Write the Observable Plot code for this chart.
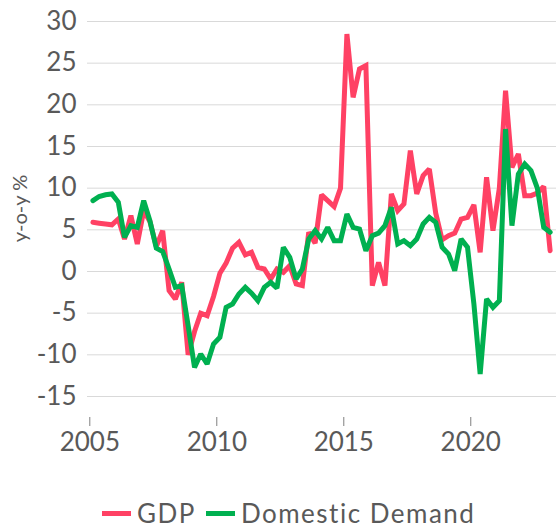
<!DOCTYPE html>
<html><head><meta charset="utf-8">
<script src="https://cdn.jsdelivr.net/npm/d3@7"></script>
<script src="https://cdn.jsdelivr.net/npm/@observablehq/plot@0.6"></script>
<style>
body{margin:0;background:#fff;font-family:Lato, sans-serif;}
#wrap{position:relative;width:556px;height:529px;overflow:hidden;background:#fff;}
#legend{position:absolute;left:102px;top:499px;display:flex;align-items:center;font-size:26px;line-height:28px;color:#595959;white-space:nowrap;letter-spacing:1.5px;}
.sw{width:29px;height:5px;margin-right:6px}
.item{display:flex;align-items:center;margin-right:10px}
</style></head><body><div id="wrap"><div id="chart"></div><div id="legend"></div></div>
<script>
const startYear = 2005;
const seriesNames = ["GDP", "Domestic Demand"];
const seriesColors = ["#ff4164", "#00b050"];
const gdp = [5.9, 5.8, 5.7, 5.6, 6.3, 3.9, 6.7, 3.3, 7.3, 6.0, 3.0, 4.9,
  -2.3, -3.3, -1.3, -10.0, -7.2, -5.0, -5.3, -3.0, -0.2, 1.0, 2.8, 3.5,
  2.0, 2.3, 0.5, 0.3, -0.9, 0.3, -0.1, 0.7, -1.5, -1.7, 4.7, 3.4,
  9.2, 8.5, 7.8, 10.0, 28.5, 20.9, 24.3, 24.7, -1.7, 1.1, -1.7, 9.3,
  7.3, 8.1, 14.5, 9.3, 11.5, 12.3, 7.0, 3.8, 4.3, 4.6, 6.3, 6.5,
  8.0, 2.3, 11.3, 4.9, 10.0, 21.7, 12.5, 14.1, 9.1, 9.1, 9.4, 10.2, 2.5];
const domesticDemand = [8.5, 9.0, 9.2, 9.3, 8.3, 4.1, 5.5, 5.3, 8.5, 6.1, 2.8, 2.4,
  0.3, -1.9, -1.7, -6.5, -11.5, -9.9, -11.1, -8.7, -7.9, -4.3, -3.9, -2.7,
  -1.9, -2.6, -3.5, -1.9, -1.3, -2.0, 2.9, 1.7, -0.9, 0.3, 3.9, 4.9,
  3.9, 5.3, 3.7, 3.7, 6.9, 5.3, 5.1, 2.5, 4.3, 4.6, 5.5, 7.7,
  3.3, 3.7, 3.1, 3.9, 5.7, 6.5, 5.9, 2.9, 2.1, 0.1, 3.9, 2.9,
  -3.9, -12.3, -3.3, -4.3, -3.5, 17.1, 5.5, 11.7, 12.9, 12.1, 10.0, 5.3, 4.7];
const quarters = gdp.map((_, i) => `${startYear + Math.floor(i / 4)}Q${i % 4 + 1}`);
const yTicks = [-15, -10, -5, 0, 5, 10, 15, 20, 25, 30];
const xTickYears = [2005, 2010, 2015, 2020];
const yLabel = "y-o-y %";

const qDate = q => { const y = +q.slice(0, 4), n = +q.slice(5); return new Date(Date.UTC(y, (n - 1) * 3 + 1, 15)); };
const rows = quarters.flatMap((q, i) => [
  {date: qDate(q), value: gdp[i], series: seriesNames[0]},
  {date: qDate(q), value: domesticDemand[i], series: seriesNames[1]}
]);
const yr = y => new Date(Date.UTC(y, 0, 1));

const chart = Plot.plot({
  width: 556, height: 475,
  marginLeft: 87, marginRight: 0, marginTop: 21, marginBottom: 58,
  style: {fontFamily: "Lato, sans-serif", fontSize: "26px", color: "#595959", background: "transparent", overflow: "visible"},
  x: {type: "utc", domain: [yr(2005), yr(2023)], range: [89.3, 546.5]},
  y: {domain: [-15, 30], range: [396, 21]},
  color: {domain: seriesNames, range: seriesColors},
  marks: [
    Plot.ruleY(yTicks, {stroke: "#d9d9d9", strokeWidth: 1}),
    Plot.axisY(yTicks, {tickSize: 0, tickPadding: 11, tickFormat: d => String(d), fill: "#595959", label: null}),
    Plot.axisX(xTickYears.map(yr), {tickSize: 9, tickPadding: 6, tickFormat: d => String(d.getUTCFullYear()), stroke: "#7f7f7f", fill: "#595959", label: null}),
    Plot.line(rows.filter(d => d.series === seriesNames[0]), {x: "date", y: "value", stroke: "series", strokeWidth: 5, strokeLinejoin: "miter", strokeMiterlimit: 2}),
    Plot.line(rows.filter(d => d.series === seriesNames[1]), {x: "date", y: "value", stroke: "series", strokeWidth: 5, strokeLinejoin: "miter", strokeMiterlimit: 2}),
    Plot.text([yLabel], {frameAnchor: "left", textAnchor: "middle", lineAnchor: "middle", dx: -67, dy: -11, rotate: -90, fontSize: 20, fill: "#595959"})
  ]
});
document.getElementById("chart").appendChild(chart);

const legend = document.getElementById("legend");
seriesNames.forEach((name, i) => {
  const item = document.createElement("div");
  item.className = "item";
  const sw = document.createElement("div");
  sw.className = "sw";
  sw.style.background = seriesColors[i];
  const t = document.createElement("span");
  t.textContent = name;
  item.appendChild(sw); item.appendChild(t);
  legend.appendChild(item);
});
</script>
</body></html>
